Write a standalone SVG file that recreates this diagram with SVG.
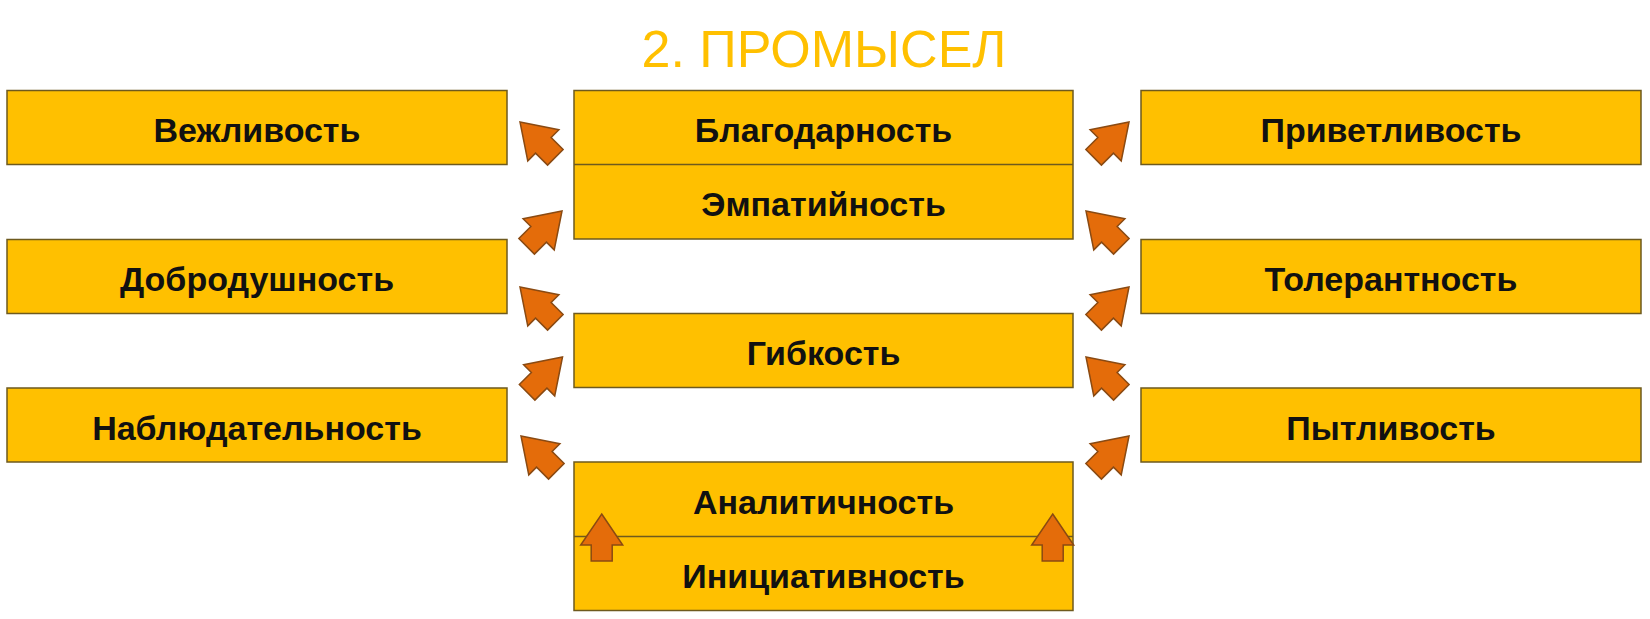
<svg xmlns="http://www.w3.org/2000/svg" xmlns:xlink="http://www.w3.org/1999/xlink" width="1650" height="619" viewBox="0 0 1650 619">
<style>
.box{fill:#FFC000;stroke:#6E5A1E;stroke-width:1.5}
.div{stroke:#6E5A1E;stroke-width:1.5;fill:none}
.lbl{font-family:"Liberation Sans",Arial,sans-serif;font-weight:bold;font-size:34px;fill:#111;text-anchor:middle}
.title{font-family:"Liberation Sans",Arial,sans-serif;font-size:52px;fill:#FFC000;text-anchor:middle}
.arr{fill:#E46C0A;stroke:#8A4A12;stroke-width:1.5;stroke-linejoin:miter}
</style>
<defs>
<path id="arrow" d="M0,0 L21,31 L10.5,31 L10.5,47 L-10.5,47 L-10.5,31 L-21,31 Z"/>
<path id="darrow" d="M0,0 L22,33 L11,33 L11,50 L-11,50 L-11,33 L-22,33 Z"/>
</defs>
<rect width="1650" height="619" fill="#FFFFFF"/>
<text class="title" x="824" y="67">2. ПРОМЫСЕЛ</text>

<g id="node-vezhlivost"><rect class="box" x="7" y="90.5" width="500" height="74"/><text class="lbl" x="257" y="142">Вежливость</text></g>
<g id="node-dobrodushnost"><rect class="box" x="7" y="239.5" width="500" height="74"/><text class="lbl" x="257" y="291">Добродушность</text></g>
<g id="node-nablyudatelnost"><rect class="box" x="7" y="388" width="500" height="74"/><text class="lbl" x="257" y="440">Наблюдательность</text></g>

<g id="node-blagodarnost-empatiynost"><rect class="box" x="574" y="90.5" width="499" height="148.5"/><line class="div" x1="574" y1="164.5" x2="1073" y2="164.5"/><text class="lbl" x="823.5" y="142">Благодарность</text><text class="lbl" x="823.5" y="216">Эмпатийность</text></g>
<g id="node-gibkost"><rect class="box" x="574" y="313.5" width="499" height="74"/><text class="lbl" x="823.5" y="365">Гибкость</text></g>
<g id="node-analitichnost-initsiativnost"><rect class="box" x="574" y="462" width="499" height="148.5"/><line class="div" x1="574" y1="536.5" x2="1073" y2="536.5"/><text class="lbl" x="823.5" y="514">Аналитичность</text><text class="lbl" x="823.5" y="588">Инициативность</text></g>

<g id="node-privetlivost"><rect class="box" x="1141" y="90.5" width="500" height="74"/><text class="lbl" x="1391" y="142">Приветливость</text></g>
<g id="node-tolerantnost"><rect class="box" x="1141" y="239.5" width="500" height="74"/><text class="lbl" x="1391" y="291">Толерантность</text></g>
<g id="node-pytlivost"><rect class="box" x="1141" y="388" width="500" height="74"/><text class="lbl" x="1391" y="440">Пытливость</text></g>

<g id="connectors">
<use xlink:href="#darrow" class="arr" transform="translate(520,122) rotate(-45)"/>
<use xlink:href="#darrow" class="arr" transform="translate(562,211) rotate(45)"/>
<use xlink:href="#darrow" class="arr" transform="translate(520,287) rotate(-45)"/>
<use xlink:href="#darrow" class="arr" transform="translate(562.5,357) rotate(45)"/>
<use xlink:href="#darrow" class="arr" transform="translate(521,436) rotate(-45)"/>
<use xlink:href="#darrow" class="arr" transform="translate(1129,122) rotate(45)"/>
<use xlink:href="#darrow" class="arr" transform="translate(1086,211) rotate(-45)"/>
<use xlink:href="#darrow" class="arr" transform="translate(1129,287) rotate(45)"/>
<use xlink:href="#darrow" class="arr" transform="translate(1086,357) rotate(-45)"/>
<use xlink:href="#darrow" class="arr" transform="translate(1129,436) rotate(45)"/>
<use xlink:href="#arrow" class="arr" transform="translate(601.7,514)"/>
<use xlink:href="#arrow" class="arr" transform="translate(1052.7,514)"/>
</g>
</svg>
